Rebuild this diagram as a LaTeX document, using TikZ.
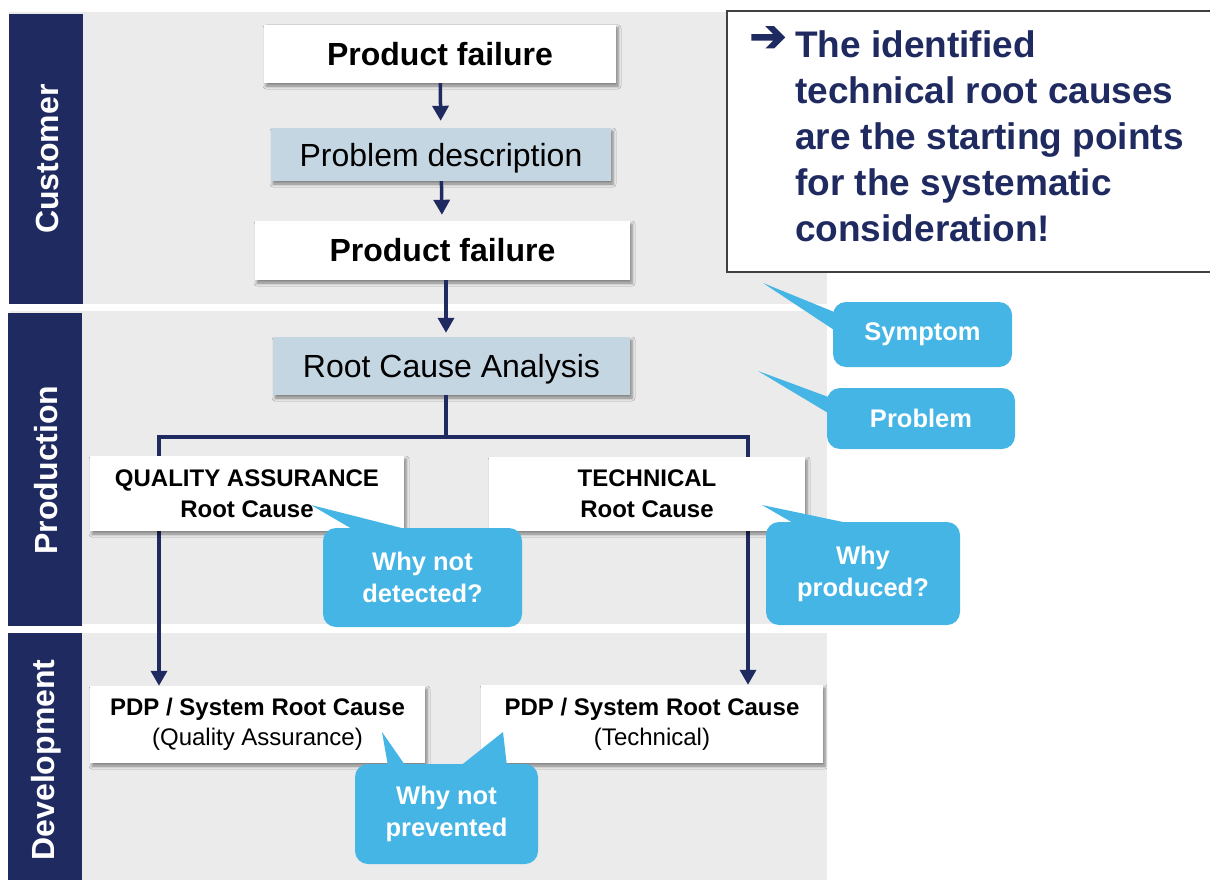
\documentclass[tikz,border=0pt]{standalone}
\usepackage{fontspec}
\setmainfont{Liberation Sans}
\newfontfamily\symfont[FakeBold=3]{DejaVu Sans}
\usetikzlibrary{arrows.meta,calc,shadows.blur}

\definecolor{navy}{RGB}{31,42,96}
\definecolor{lanegray}{RGB}{235,235,235}
\definecolor{callblue}{RGB}{68,181,229}
\definecolor{boxblue}{RGB}{197,214,227}

\tikzset{
    lane/.style={fill=lanegray},
    band/.style={fill=navy},
    lanelabel/.style={rotate=90, text=white, font=\fontsize{32}{36}\selectfont\bfseries},
    box/.style={fill=white, inner sep=0pt, align=center,
        blur shadow={shadow xshift=2pt, shadow yshift=-3pt, shadow blur radius=3pt, shadow opacity=45}},
    bluebox/.style={box, fill=boxblue, text depth=0pt},
    bigbold/.style={font=\fontsize{32}{36}\selectfont\bfseries},
    bigtext/.style={font=\fontsize{32}{36}\selectfont},
    smallbold/.style={font=\fontsize{24}{31}\selectfont\bfseries},
    smalltext/.style={font=\fontsize{24}{30}\selectfont},
    callout/.style={fill=callblue, rounded corners=13pt, inner sep=0pt, align=center,
        text=white, font=\fontsize{25.5}{32}\selectfont\bfseries},
    flow/.style={draw=navy, line width=3.5pt, -{Triangle[width=16pt,length=15pt]}},
    branch/.style={draw=navy, line width=3.5pt},
    notetext/.style={text=navy, inner sep=0pt, align=left, font=\fontsize{37}{46}\selectfont\bfseries},
}

\begin{document}
\begin{tikzpicture}[x=1pt, y=-1pt]
    \useasboundingbox (0,0) rectangle (1210,880);

    % swim lanes
    \fill[lane] (9,12) rectangle (827,304);
    \fill[lane] (9,311) rectangle (827,624);
    \fill[lane] (9,633) rectangle (827,880);
    \fill[band] (9,14) rectangle (83,304);
    \fill[band] (8,313) rectangle (82,626);
    \fill[band] (8,633) rectangle (82,880);
    \node[lanelabel] at (47,159) (customer)    {Customer};
    \node[lanelabel] at (46,470) (production)  {Production};
    \node[lanelabel] at (46,760) (development) {Development};

    % note
    \draw[draw=black!75, line width=1.5pt, fill=white] (727,11) rectangle (1215,272);
    \node[text=navy, inner sep=0pt, font=\fontsize{44}{46}\selectfont\symfont\bfseries]
        at (768,39) (notearrow) {➔};
    \node[notetext, anchor=north west] at (795,30) (note)
        {The identified\\technical root causes\\are the starting points\\for the systematic\\consideration!};

    % flow
    \node[box, bigbold, minimum width=352, minimum height=58] at (440,54)    (fail1)   {Product failure};
    \node[bluebox, bigtext, minimum width=340, minimum height=53] at (441,154.5) (descr) {Problem description};
    \node[box, bigbold, minimum width=375, minimum height=59] at (442.5,250.5) (fail2) {Product failure};
    \node[bluebox, bigtext, minimum width=357, minimum height=58] at (451.5,366) (rca)  {Root Cause Analysis};
    \node[box, smalltext, minimum width=335, minimum height=77] at (257.5,724.5) (pdpqa)
        {\bfseries PDP / System Root Cause\\(Quality Assurance)};
    \node[box, smalltext, minimum width=342, minimum height=78] at (652,724) (pdptech)
        {\bfseries PDP / System Root Cause\\(Technical)};

    \coordinate (split) at (446,437);
    \coordinate (qaline) at (159,437);
    \coordinate (techline) at (748,437);

    \draw[flow, shorten >=7pt] (fail1) -- (descr);
    \draw[flow, shorten >=6pt] (descr) -- (fail2);
    \draw[flow, shorten >=4pt] (fail2.south -| split) -- (rca.north -| split);
    \draw[branch] (rca.south -| split) -- (split);
    \draw[flow] (split) -- (qaline) -- (qaline |- pdpqa.north);
    \draw[flow] (split) -- (techline) -- (techline |- pdptech.north);

    \node[box, smallbold, minimum width=314, minimum height=75] at (247,493.5) (qa)
        {QUALITY ASSURANCE\\Root Cause};
    \node[box, smallbold, minimum width=316, minimum height=74] at (647,494) (tech)
        {TECHNICAL\\Root Cause};

    % callouts
    \node[callout, minimum width=179, minimum height=65] at (922.5,334.5) (symptom) {Symptom};
    \node[callout, minimum width=188, minimum height=61] at (921,418.5) (problem) {Problem};
    \node[callout, minimum width=199, minimum height=99] at (422.5,577.5) (detected) {Why not\\detected?};
    \node[callout, minimum width=194, minimum height=103] at (863,573.5) (produced) {Why\\produced?};
    \node[callout, minimum width=183, minimum height=100] at (446.5,814) (prevented) {Why not\\prevented};

    \coordinate (symptomtip) at (763,283);
    \coordinate (problemtip) at (758,371);
    \coordinate (detectedtip) at (311,505);
    \coordinate (producedtip) at (762,505);
    \coordinate (preventedtipa) at (382,732);
    \coordinate (preventedtipb) at (503,732);

    \fill[callblue] (symptomtip) -- ($(symptom.north west)+(1,10)$) -- ($(symptom.north west)+(1,28)$) -- cycle;
    \fill[callblue] (problemtip) -- ($(problem.north west)+(1,9)$) -- ($(problem.north west)+(1,25)$) -- cycle;
    \fill[callblue] (detectedtip) -- ($(detected.north west)+(29,1)$) -- ($(detected.north west)+(82,1)$) -- cycle;
    \fill[callblue] (producedtip) -- ($(produced.north west)+(27,1)$) -- ($(produced.north west)+(81,1)$) -- cycle;
    \fill[callblue] (preventedtipa) -- ($(prevented.north west)+(33,1)$) -- ($(prevented.north west)+(50,1)$) -- cycle;
    \fill[callblue] (preventedtipb) -- ($(prevented.north west)+(107,1)$) -- ($(prevented.north west)+(152,1)$) -- cycle;
\end{tikzpicture}
\end{document}
